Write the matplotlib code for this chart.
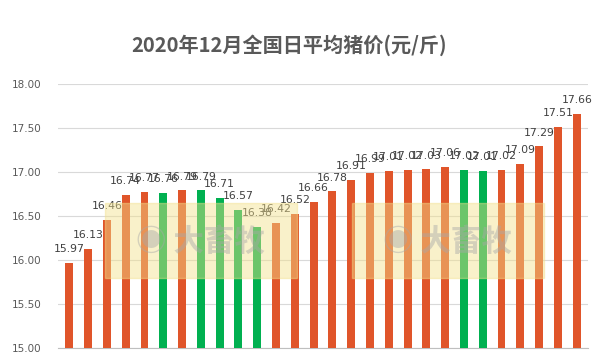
import matplotlib
matplotlib.use("Agg")
import matplotlib.pyplot as plt
from matplotlib.patches import Rectangle

plt.rcParams['font.family'] = ['Noto Sans CJK SC', 'DejaVu Sans']

title = "2020年12月全国日平均猪价(元/斤)"
values = [15.97, 16.13, 16.46, 16.74, 16.77, 16.76, 16.79, 16.79, 16.71, 16.57,
          16.38, 16.42, 16.52, 16.66, 16.78, 16.91, 16.99, 17.01, 17.02, 17.03,
          17.06, 17.02, 17.01, 17.02, 17.09, 17.29, 17.51, 17.66]
falling = [False, False, False, False, False, True, False, True, True, True,
           True, False, False, False, False, False, False, False, False, False,
           False, True, True, False, False, False, False, False]
yticks = [15.0, 15.5, 16.0, 16.5, 17.0, 17.5, 18.0]

ORANGE = "#E0552A"
GREEN = "#00B050"

fig = plt.figure(figsize=(6.04, 3.63), dpi=100)
ax = fig.add_axes([58/604, 1-348/363, 530/604, 264/363])

x = list(range(len(values)))
colors = [GREEN if f else ORANGE for f in falling]
ax.bar(x, [v - 15.0 for v in values], bottom=15.0, width=0.42, color=colors, zorder=3)
for xi, v in zip(x, values):
    ax.text(xi, v + 0.1, f"{v:.2f}", ha='center', va='bottom', fontsize=7.8,
            color='#404040', family='DejaVu Sans', zorder=5)

ax.set_xlim(-0.6, len(values) - 0.4)
ax.set_ylim(15.0, 18.0)
ax.set_yticks(yticks)
ax.set_yticklabels([f"{t:.2f}" for t in yticks], fontsize=7.5, color='#595959', family='DejaVu Sans')
ax.set_xticks([])
ax.tick_params(axis='y', length=0, pad=12)
ax.grid(axis='y', color='#D9D9D9', linewidth=0.8, zorder=0)
for s in ['top', 'right', 'left']:
    ax.spines[s].set_visible(False)
ax.spines['bottom'].set_color('#BFBFBF')

# watermark-like boxes
for x0 in (105, 352):
    fig.patches.append(Rectangle((x0/604, 1-278/363), 192/604, 75/363,
                                 transform=fig.transFigure, color='#F2E08A',
                                 alpha=0.45, zorder=10))
    fig.text((x0+95)/604, 1-242/363, "◉ 大畜牧", fontsize=22, color='#A8A8A8',
             alpha=0.45, ha='center', va='center', fontweight='bold', zorder=11)

fig.text(0.5 - 13/604, 1-45/363, title, ha='center', va='center', fontsize=14.5,
         fontweight='bold', color='#595959')

fig.savefig("out.png", dpi=100)
